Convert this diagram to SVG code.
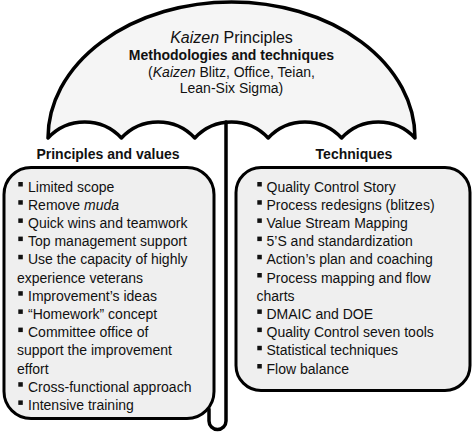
<svg xmlns="http://www.w3.org/2000/svg" width="474" height="434" viewBox="0 0 474 434">
<style>
text{font-family:"Liberation Sans",Arial,sans-serif;fill:#111;font-size:14px}
.t16{font-size:16px}
.b{font-weight:bold}
.c{text-anchor:middle}
.ol{stroke:#000;stroke-width:3.5;fill:none;stroke-linejoin:round;stroke-linecap:round}
.box{stroke:#000;stroke-width:3;fill:#efefef}
.bu{fill:#111}
</style>
<rect width="474" height="434" fill="#fff"/>
<g id="umbrella">
<path d="M48,138 A183.5,136 0 0 1 415,138 A50,50 0 0 0 341.6,138 A50,50 0 0 0 268.2,138 A50,50 0 0 0 194.8,138 A50,50 0 0 0 121.4,138 A50,50 0 0 0 48,138 Z" fill="#f5f5f5" stroke="#000" stroke-width="3.5" stroke-linejoin="round"/>
<text class="t16 c" x="231.5" y="43"><tspan font-style="italic">Kaizen</tspan> Principles</text>
<text class="b c" x="231.5" y="59.5">Methodologies and techniques</text>
<text class="c" x="231.5" y="77">(<tspan font-style="italic">Kaizen</tspan> Blitz, Office, Teian,</text>
<text class="c" x="231.5" y="93">Lean-Six Sigma)</text>
</g>
<g id="connectors">
<path class="ol" d="M226,122 V421 A8.5,8.5 0 0 1 209,421 V409"/>
</g>
<g id="principles">
<text class="b c" x="108" y="159">Principles and values</text>
<rect class="box" x="4" y="167.5" width="210" height="251" rx="27" ry="27"/>
<g class="bu">
<rect x="18.3" y="182" width="4.5" height="4.5"/>
<rect x="18.3" y="200.2" width="4.5" height="4.5"/>
<rect x="18.3" y="218.4" width="4.5" height="4.5"/>
<rect x="18.3" y="236.6" width="4.5" height="4.5"/>
<rect x="18.3" y="254.8" width="4.5" height="4.5"/>
<rect x="18.3" y="291.2" width="4.5" height="4.5"/>
<rect x="18.3" y="309.4" width="4.5" height="4.5"/>
<rect x="18.3" y="327.6" width="4.5" height="4.5"/>
<rect x="18.3" y="382.2" width="4.5" height="4.5"/>
<rect x="18.3" y="400.4" width="4.5" height="4.5"/>
</g>
<text x="28" y="191.5">Limited scope</text>
<text x="28" y="209.7">Remove <tspan font-style="italic">muda</tspan></text>
<text x="28" y="227.9">Quick wins and teamwork</text>
<text x="28" y="246.1">Top management support</text>
<text x="28" y="264.3">Use the capacity of highly</text>
<text x="17" y="282.5">experience veterans</text>
<text x="28" y="300.7">Improvement’s ideas</text>
<text x="28" y="318.9">“Homework” concept</text>
<text x="28" y="337.1">Committee office of</text>
<text x="17" y="355.3">support the improvement</text>
<text x="17" y="373.5">effort</text>
<text x="28" y="391.7">Cross-functional approach</text>
<text x="28" y="409.9">Intensive training</text>
</g>
<g id="techniques">
<text class="b c" x="354" y="159">Techniques</text>
<rect class="box" x="236" y="167.5" width="234" height="223" rx="25" ry="25"/>
<g class="bu">
<rect x="257.3" y="182" width="4.5" height="4.5"/>
<rect x="257.3" y="200.2" width="4.5" height="4.5"/>
<rect x="257.3" y="218.4" width="4.5" height="4.5"/>
<rect x="257.3" y="236.6" width="4.5" height="4.5"/>
<rect x="257.3" y="254.8" width="4.5" height="4.5"/>
<rect x="257.3" y="273" width="4.5" height="4.5"/>
<rect x="257.3" y="309.4" width="4.5" height="4.5"/>
<rect x="257.3" y="327.6" width="4.5" height="4.5"/>
<rect x="257.3" y="345.8" width="4.5" height="4.5"/>
<rect x="257.3" y="364" width="4.5" height="4.5"/>
</g>
<text x="266.5" y="191.5">Quality Control Story</text>
<text x="266.5" y="209.7">Process redesigns (blitzes)</text>
<text x="266.5" y="227.9">Value Stream Mapping</text>
<text x="266.5" y="246.1">5’S and standardization</text>
<text x="266.5" y="264.3">Action’s plan and coaching</text>
<text x="266.5" y="282.5">Process mapping and flow</text>
<text x="256.5" y="300.7">charts</text>
<text x="266.5" y="318.9">DMAIC and DOE</text>
<text x="266.5" y="337.1">Quality Control seven tools</text>
<text x="266.5" y="355.3">Statistical techniques</text>
<text x="266.5" y="373.5">Flow balance</text>
</g>
</svg>
